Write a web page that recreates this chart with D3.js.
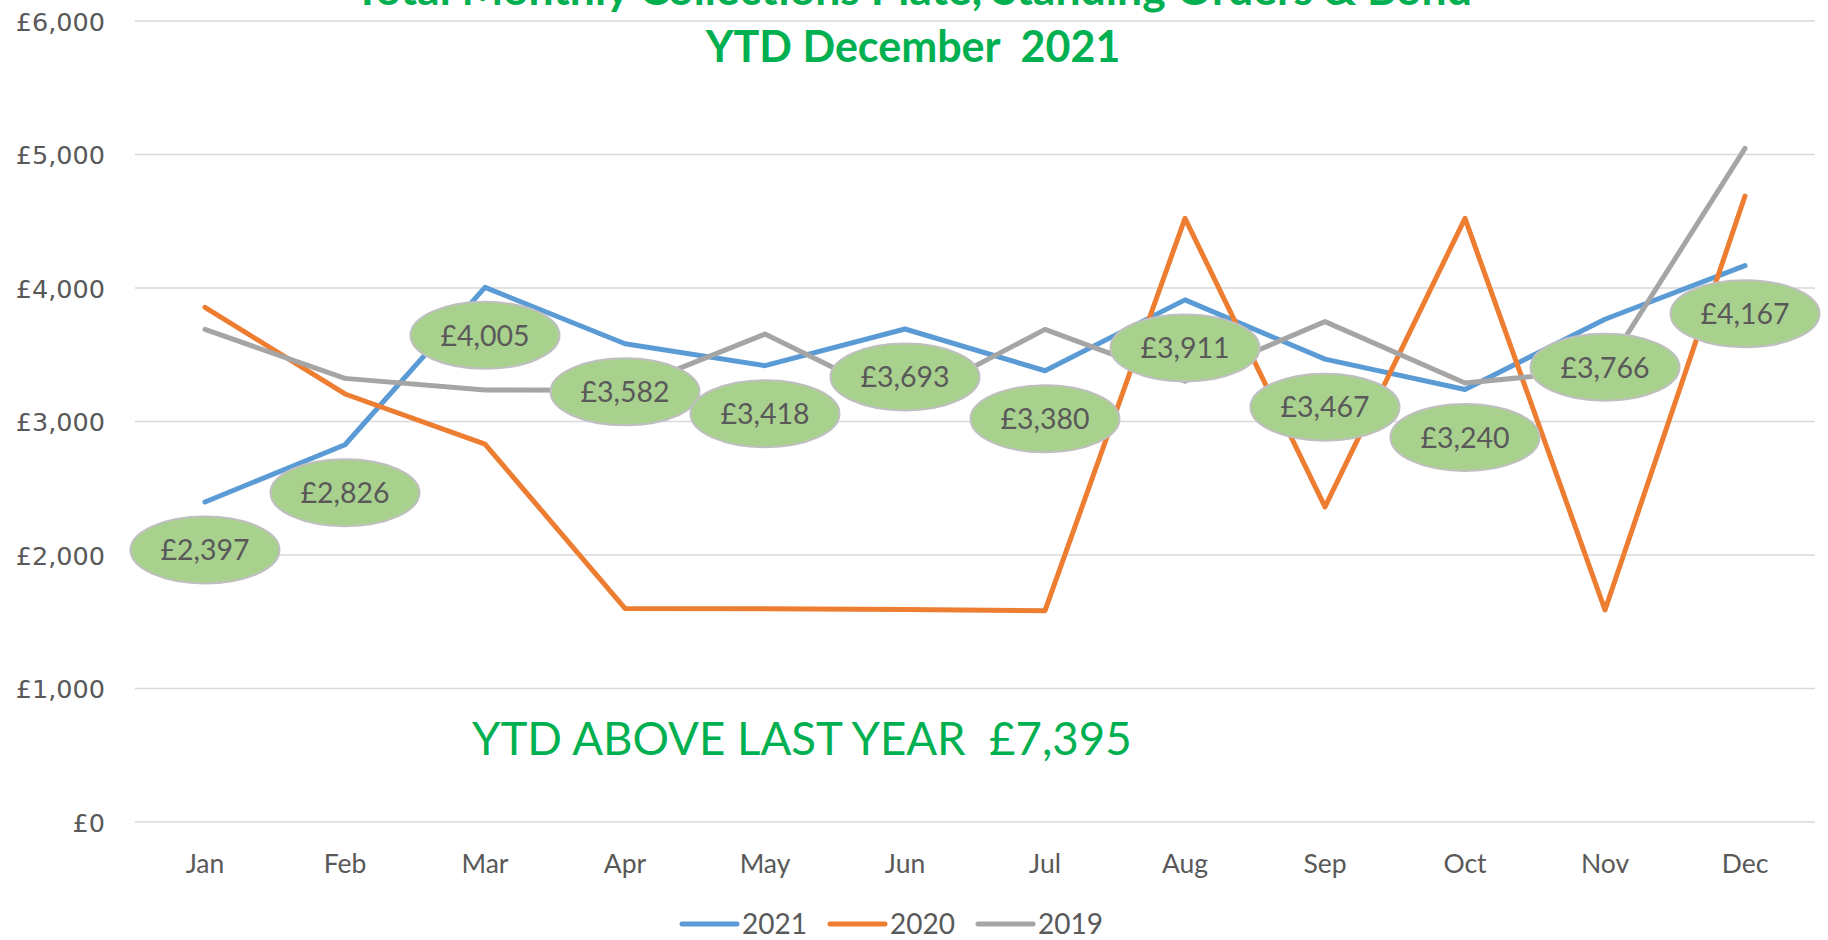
<!DOCTYPE html>
<html>
<head>
<meta charset="utf-8">
<script src="https://cdn.jsdelivr.net/npm/d3@7"></script>
<style>
  html, body { margin: 0; padding: 0; background: #ffffff; }
  svg { display: block; }
  text { white-space: pre; }
</style>
</head>
<body>
<svg id="chart" width="1828" height="940"></svg>
<script>
const months = ["Jan","Feb","Mar","Apr","May","Jun","Jul","Aug","Sep","Oct","Nov","Dec"];
const values2021 = [2397, 2826, 4005, 3582, 3418, 3693, 3380, 3911, 3467, 3240, 3766, 4167];
const values2020 = [3855, 3206, 2831, 1600, 1598, 1592, 1583, 4522, 2360, 4522, 1588, 4689];
const values2019 = [3690, 3323, 3236, 3235, 3655, 3140, 3690, 3302, 3748, 3288, 3390, 5046];
const yTicks = [0, 1000, 2000, 3000, 4000, 5000, 6000];
const seriesNames = ["2021", "2020", "2019"];
const seriesColors = ["#5b9bd5", "#ed7d31", "#a5a5a5"];
const titleLines = ["Total Monthly Collections Plate, Standing Orders & Bond", "YTD December  2021"];
const noteText = "YTD ABOVE LAST YEAR  £7,395";

const series = [values2021, values2020, values2019];
const svg = d3.select("#chart");
const plot = { left: 135, right: 1815, top: 21, bottom: 822 };

const x = d3.scaleBand().domain(months).range([plot.left, plot.right]);
const y = d3.scaleLinear().domain([0, 6000]).range([plot.bottom, plot.top]);
const cx = m => x(m) + x.bandwidth() / 2;
const fmt = v => "£" + d3.format(",")(v);

// gridlines
svg.append("g").selectAll("line").data(yTicks).join("line")
  .attr("x1", plot.left).attr("x2", plot.right)
  .attr("y1", d => y(d)).attr("y2", d => y(d))
  .attr("stroke", "#d9d9d9").attr("stroke-width", 1.5);

// y axis labels
const yAxis = d3.axisLeft(y).tickValues(yTicks).tickFormat(fmt).tickSize(0).tickPadding(0);
const yg = svg.append("g").attr("transform", "translate(105,0)").call(yAxis);
yg.select(".domain").remove();
yg.selectAll("text")
  .attr("font-family", "'DejaVu Sans', sans-serif")
  .attr("font-size", 25.5).attr("fill", "#595959").attr("dy", "0.36em");

// x axis labels
const xAxis = d3.axisBottom(x).tickSize(0).tickPadding(0);
const xg = svg.append("g").attr("transform", "translate(0,873)").call(xAxis);
xg.select(".domain").remove();
xg.selectAll("text")
  .attr("font-family", "Lato, sans-serif")
  .attr("font-size", 26.5).attr("fill", "#595959").attr("dy", 0);

// lines
const line = d3.line().x((d, i) => cx(months[i])).y(d => y(d));
series.forEach((vals, k) => {
  svg.append("path").datum(vals)
    .attr("d", line).attr("fill", "none")
    .attr("stroke", seriesColors[k]).attr("stroke-width", 5)
    .attr("stroke-linejoin", "round").attr("stroke-linecap", "round");
});

// data labels for 2021 (ellipses below points)
const lab = svg.append("g").selectAll("g").data(values2021).join("g")
  .attr("transform", (d, i) => `translate(${cx(months[i])},${y(d) + 48})`);
lab.append("ellipse").attr("rx", 74.5).attr("ry", 33.5)
  .attr("fill", "#a9d18e").attr("stroke", "#bfbfbf").attr("stroke-width", 2);
lab.append("text").text(d => fmt(d))
  .attr("text-anchor", "middle").attr("dy", "0.36em")
  .attr("font-family", "Lato, sans-serif").attr("font-size", 28.5).attr("fill", "#595959");

// title
svg.append("g").selectAll("text").data(titleLines).join("text")
  .attr("x", 913).attr("y", (d, i) => 5 + i * 57)
  .attr("text-anchor", "middle")
  .attr("font-family", "Lato, sans-serif").attr("font-weight", "bold")
  .attr("font-size", (d, i) => i === 0 ? 44.5 : 43).attr("fill", "#00b050")
  .text(d => d);

// note text
svg.append("text").attr("x", 472).attr("y", 755)
  .attr("font-family", "Lato, sans-serif").attr("font-size", 45.6)
  .attr("fill", "#00b050").text(noteText);

// legend
const leg = svg.append("g").selectAll("g").data(seriesNames).join("g")
  .attr("transform", (d, i) => `translate(${682 + i * 148},924)`);
leg.append("line").attr("x1", 0).attr("x2", 55).attr("y1", 0).attr("y2", 0)
  .attr("stroke", (d, i) => seriesColors[i]).attr("stroke-width", 5).attr("stroke-linecap", "round");
leg.append("text").attr("x", 60).attr("y", 10).text(d => d)
  .attr("font-family", "Lato, sans-serif").attr("font-size", 28).attr("fill", "#595959");
</script>
</body>
</html>
